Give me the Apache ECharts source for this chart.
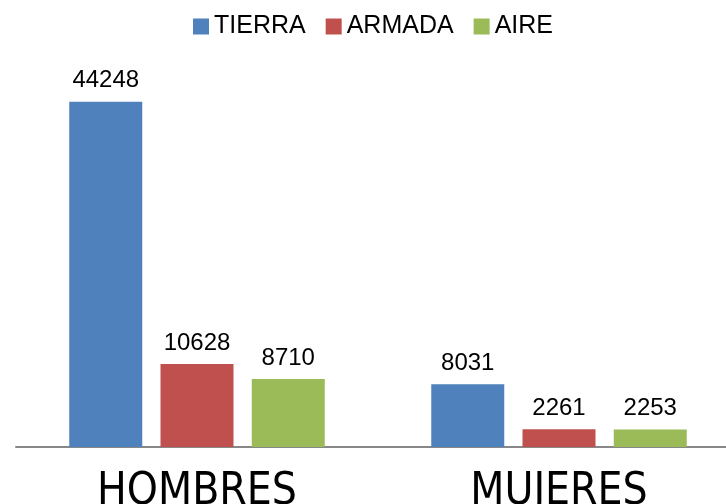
<!DOCTYPE html>
<html><head><meta charset="utf-8">
<script src="https://cdn.jsdelivr.net/npm/echarts@6/dist/echarts.min.js"></script>
<style>html,body{margin:0;padding:0;background:#fff}#c{width:726px;height:504px}</style>
</head><body><div id="c"></div>
<script>
const categories = ['HOMBRES', 'MUJERES'];
const seriesNames = ['TIERRA', 'ARMADA', 'AIRE'];
const tierra = [44248, 8031];
const armada = [10628, 2261];
const aire = [8710, 2253];
const colors = ['#4F81BD', '#C0504D', '#9BBB59'];
const values = [tierra, armada, aire];

const chart = echarts.init(document.getElementById('c'));
chart.setOption({
  animation: false,
  legend: {
    top: 9, left: 188,
    itemWidth: 16, itemHeight: 16, itemGap: 20,
    icon: 'rect',
    textStyle: { fontFamily: 'Liberation Sans', fontSize: 25, color: '#000' },
    data: seriesNames
  },
  grid: { left: 16, width: 724, top: 57, bottom: 57, containLabel: false, outerBoundsMode: 'none' },
  xAxis: {
    type: 'category', data: categories,
    axisLine: { lineStyle: { color: '#888', width: 2 } },
    axisTick: { show: false },
    axisLabel: { fontFamily: 'DejaVu Sans Condensed, Lato', fontSize: 44, color: '#000', margin: 24 }
  },
  yAxis: { type: 'value', min: 0, max: 50000, show: false, splitLine: { show: false } },
  series: seriesNames.map((n, i) => ({
    name: n, type: 'bar', data: values[i],
    barWidth: 73, barGap: '25%',
    itemStyle: { color: colors[i] },
    label: { show: true, position: 'top', distance: 9, fontFamily: 'Liberation Sans', fontSize: 24, color: '#000' }
  }))
});
</script></body></html>
